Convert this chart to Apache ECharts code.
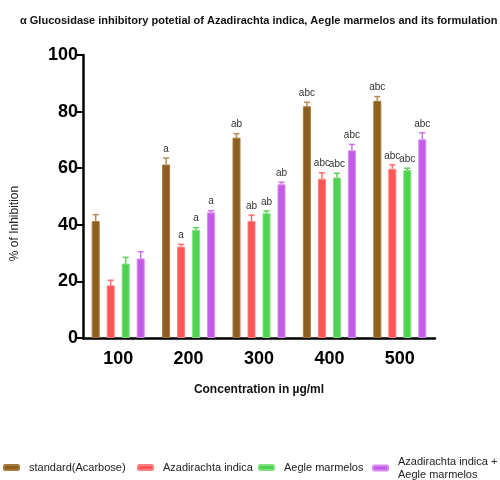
<!DOCTYPE html>
<html>
<head>
<meta charset="utf-8">
<script src="https://cdn.jsdelivr.net/npm/echarts@6/dist/echarts.min.js"></script>
<style>
  html, body { margin: 0; padding: 0; background: #fff; }
  #chart { width: 500px; height: 480px; }
</style>
</head>
<body>
<div id="chart"></div>
<script>
const categories = ['100', '200', '300', '400', '500'];
const yTicks = [0, 20, 40, 60, 80, 100];
const seriesNames = ['standard(Acarbose)', 'Azadirachta indica', 'Aegle marmelos', 'Azadirachta indica +\nAegle marmelos'];
const standard = [41.3, 61.3, 70.8, 81.9, 83.8];
const standardErr = [2.3, 2.3, 1.4, 1.4, 1.5];
const indica = [18.6, 32.3, 41.3, 56.3, 59.8];
const indicaErr = [1.8, 0.8, 2.1, 2.1, 1.4];
const aegle = [26.3, 38.2, 44.1, 56.7, 59.3];
const aegleErr = [2.2, 0.8, 0.8, 1.5, 0.7];
const formulation = [28.1, 44.4, 54.3, 66.3, 70.2];
const formulationErr = [2.4, 0.6, 0.7, 2.1, 2.3];
const letters = ['', 'a', 'ab', 'abc', 'abc'];

const values = [standard, indica, aegle, formulation];
const errors = [standardErr, indicaErr, aegleErr, formulationErr];
const fills = ['#8c5e1f', '#ff5555', '#4fd24f', '#c45ae8'];
const edges = ['#a77a3c', '#ff8080', '#7fe07f', '#d88cf2'];
const capColors = ['#b38b55', '#ff6b6b', '#5fcf5f', '#cf6ff0'];
const legendLeft = [3, 137, 258, 372];

const barW = 8;
const step = 15;
const font = 'Liberation Sans, Arial, sans-serif';

let series = [];
values.forEach(function (vals, s) {
    series.push({
        name: seriesNames[s],
        type: 'bar',
        data: vals,
        barWidth: barW,
        barGap: '87.5%',
        itemStyle: { color: fills[s], borderColor: edges[s], borderWidth: 1 }
    });
});
values.forEach(function (vals, s) {
    series.push({
        type: 'custom',
        silent: true,
        z: 5,
        data: vals.map(function (v, i) { return [i, v, errors[s][i]]; }),
        renderItem: function (params, api) {
            const c = api.coord([api.value(0), api.value(1)]);
            const top = api.coord([api.value(0), api.value(1) + api.value(2)]);
            const x = c[0] + (s - 1.5) * step;
            const label = letters[api.value(0)];
            const kids = [
                { type: 'line', shape: { x1: x, y1: c[1], x2: x, y2: top[1] }, style: { stroke: capColors[s], lineWidth: 1.5 } },
                { type: 'line', shape: { x1: x - 3, y1: top[1], x2: x + 3, y2: top[1] }, style: { stroke: capColors[s], lineWidth: 1.5 } }
            ];
            if (label) {
                kids.push({ type: 'text', style: { text: label, x: x, y: top[1] - 4, align: 'center', verticalAlign: 'bottom', fill: '#333', font: '10px ' + font } });
            }
            return { type: 'group', children: kids };
        }
    });
});

// one legend per item so the spacing can follow the original
const legends = seriesNames.map(function (n, i) {
    return {
        left: legendLeft[i],
        top: i === 3 ? 455 : 461,
        padding: 0,
        itemWidth: 15,
        itemHeight: 5,
        data: [n],
        textStyle: { fontSize: 11, color: '#222', lineHeight: 13, padding: [0, 0, 0, 5] }
    };
});

const chart = echarts.init(document.getElementById('chart'));
chart.setOption({
    animation: false,
    textStyle: { fontFamily: font },
    title: {
        text: 'α Glucosidase inhibitory potetial of Azadirachta indica, Aegle marmelos and its formulation',
        left: 15,
        top: 10,
        textStyle: { fontSize: 11, fontWeight: 'bold', color: '#111', fontFamily: font }
    },
    legend: legends,
    grid: { left: 83, right: 65, top: 55, bottom: 142 },
    xAxis: {
        type: 'category',
        data: categories,
        name: 'Concentration in µg/ml',
        nameLocation: 'middle',
        nameGap: 46,
        nameTextStyle: { fontSize: 12, fontWeight: 'bold', color: '#111' },
        axisLine: { lineStyle: { color: '#000', width: 2.5 } },
        axisTick: { alignWithLabel: true, length: 7, lineStyle: { color: '#000', width: 2 } },
        axisLabel: { fontSize: 18, fontWeight: 'bold', color: '#000', margin: 12 }
    },
    yAxis: {
        type: 'value',
        min: yTicks[0],
        max: yTicks[yTicks.length - 1],
        interval: 20,
        name: '% of Inhibition',
        nameLocation: 'middle',
        nameGap: 62,
        nameTextStyle: { fontSize: 12, color: '#222', padding: [0, 54, 0, 0] },
        axisLine: { show: true, lineStyle: { color: '#000', width: 2.5 } },
        axisTick: { show: true, length: 6, lineStyle: { color: '#000', width: 2 } },
        axisLabel: { fontSize: 18, fontWeight: 'bold', color: '#000', margin: 5 },
        splitLine: { show: false }
    },
    series: series
});
</script>
</body>
</html>
